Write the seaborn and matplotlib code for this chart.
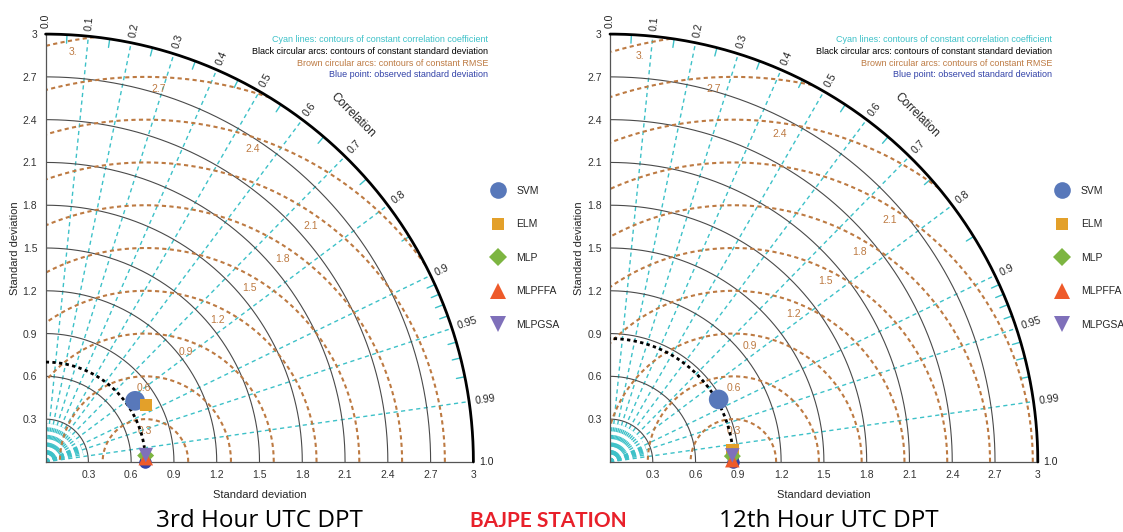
import numpy as np
import pandas as pd
import matplotlib
matplotlib.use("Agg")
import matplotlib.pyplot as plt
from matplotlib.lines import Line2D
import seaborn as sns

sns.set_style("white")
plt.rcParams["font.family"] = ["Liberation Sans", "DejaVu Sans"]

# ---------------- data ----------------
models = ["SVM", "ELM", "MLP", "MLPFFA", "MLPGSA"]
obs_std_3 = 0.70
std_3 = [0.76, 0.81, 0.703, 0.703, 0.704]
corr_3 = [0.826, 0.870, 0.998, 0.9993, 0.9977]
obs_std_12 = 0.865
std_12 = [0.879, 0.862, 0.859, 0.858, 0.859]
corr_12 = [0.867, 0.9954, 0.9989, 0.9999, 0.9986]

std_ticks = [0.3, 0.6, 0.9, 1.2, 1.5, 1.8, 2.1, 2.4, 2.7, 3.0]
std_tick_labels = ["0.3", "0.6", "0.9", "1.2", "1.5", "1.8", "2.1", "2.4", "2.7", "3"]
corr_major = [0.0, 0.1, 0.2, 0.3, 0.4, 0.5, 0.6, 0.7, 0.8, 0.9, 0.95, 0.99, 1.0]
corr_major_labels = ["0.0", "0.1", "0.2", "0.3", "0.4", "0.5", "0.6", "0.7", "0.8",
                     "0.9", "0.95", "0.99", "1.0"]
corr_minor = [0.05, 0.15, 0.25, 0.35, 0.45, 0.55, 0.65, 0.75, 0.85,
              0.91, 0.92, 0.93, 0.94, 0.96, 0.97, 0.98]
rms_levels = [0.3, 0.6, 0.9, 1.2, 1.5, 1.8, 2.1, 2.4, 2.7, 3.0]
rms_labels = ["0.3", "0.6", "0.9", "1.2", "1.5", "1.8", "2.1", "2.4", "2.7", "3."]
# angle (deg, around the observed point) at which each RMSE label sits
rms_label_angles_3 = [92, 91, 70, 63, 59, 56, 55, 71, 88, 100]
rms_label_angles_12 = [90, 90, 82, 68, 63, 59, 57, 82, 93, 103]

# ---------------- style ----------------
palette = {"SVM": "#5878BA", "ELM": "#E3A02A", "MLP": "#7DB541",
           "MLPFFA": "#EE5A2A", "MLPGSA": "#7F70BA"}
markers = {"SVM": "o", "ELM": "s", "MLP": "D", "MLPFFA": "^", "MLPGSA": "v"}
sizes = {"SVM": 200, "ELM": 80, "MLP": 75, "MLPFFA": 110, "MLPGSA": 110}
leg_ms = {"SVM": 12, "ELM": 9, "MLP": 9, "MLPFFA": 11, "MLPGSA": 11}
CYAN = "#3DC1C8"
BROWN = "#BD7A42"
OBS_BLUE = "#3242A8"
RMAX = 3.0

W, H = 1123, 532
fig = plt.figure(figsize=(W / 100, H / 100), dpi=100)


def panel(left_px, obs, stds, corrs, rms_angles):
    ax = fig.add_axes([left_px / W, (H - 461.9) / H, 428 / W, 427.8 / H])
    ax.set_xlim(0, RMAX)
    ax.set_ylim(0, RMAX)
    ax.set_aspect("equal")
    for s in ["top", "right"]:
        ax.spines[s].set_visible(False)
    for s in ["left", "bottom"]:
        ax.spines[s].set_color("#555555")
        ax.spines[s].set_linewidth(0.9)
    ax.set_xticks(std_ticks)
    ax.set_xticklabels(std_tick_labels)
    ax.set_yticks(std_ticks)
    ax.set_yticklabels(std_tick_labels)
    ax.tick_params(length=0, pad=6, labelsize=7.5, labelcolor="#333333")

    th = np.linspace(0, np.pi / 2, 400)
    # std arcs
    for r in std_ticks[:-1]:
        ax.plot(r * np.cos(th), r * np.sin(th), color="#4a4a4a", lw=0.8, zorder=2)
    ax.plot(RMAX * np.cos(th), RMAX * np.sin(th), color="black", lw=2.0, zorder=4,
            clip_on=False)

    # correlation lines
    for c in corr_major[1:-1]:
        a = np.arccos(c)
        ax.plot([0, RMAX * np.cos(a)], [0, RMAX * np.sin(a)], color=CYAN, lw=1.0,
                ls=(0, (3, 2.5)), zorder=1)
    for c in corr_minor:
        a = np.arccos(c)
        ax.plot([0, 0.27 * np.cos(a)], [0, 0.27 * np.sin(a)], color=CYAN, lw=1.0,
                ls=(0, (3, 2.5)), zorder=1)
        ax.plot([2.94 * np.cos(a), RMAX * np.cos(a)], [2.94 * np.sin(a), RMAX * np.sin(a)],
                color=CYAN, lw=1.0, zorder=1)
    for c, lab in zip(corr_major, corr_major_labels):
        a = np.arccos(c)
        ax.text(3.04 * np.cos(a), 3.04 * np.sin(a), lab, rotation=np.degrees(a),
                rotation_mode="anchor", ha="left", va="center", fontsize=7.5,
                color="#222222", clip_on=False)
    a = np.radians(48.5)
    ax.text(3.25 * np.cos(a), 3.25 * np.sin(a), "Correlation", rotation=-45,
            ha="center", va="center", fontsize=8.5, color="#222222", clip_on=False)

    # RMSE arcs around observed point
    tt = np.linspace(0, np.pi, 800)
    for rms, lab, ang in zip(rms_levels, rms_labels, rms_angles):
        x = obs + rms * np.cos(tt)
        y = rms * np.sin(tt)
        m = (x >= 0) & (x ** 2 + y ** 2 <= RMAX ** 2)
        x = np.where(m, x, np.nan)
        y = np.where(m, y, np.nan)
        ax.plot(x, y, color=BROWN, lw=1.5, ls=(0, (2, 1.6)), zorder=2)
        ar = np.radians(ang)
        ax.text(obs + (rms - 0.08) * np.cos(ar), (rms - 0.08) * np.sin(ar), lab,
                ha="center", va="center", fontsize=7.5, color=BROWN, zorder=3)

    # observed std arc
    ax.plot(obs * np.cos(th), obs * np.sin(th), color="black", lw=2.0,
            ls=(0, (1.2, 1.2)), zorder=3)
    ax.plot([obs], [0], "o", color=OBS_BLUE, ms=8, clip_on=False, zorder=4)

    # model points
    stds = np.asarray(stds)
    corrs = np.asarray(corrs)
    df = pd.DataFrame({"model": models,
                       "x": stds * corrs,
                       "y": stds * np.sin(np.arccos(corrs))})
    sns.scatterplot(data=df, x="x", y="y", hue="model", style="model", size="model",
                    palette=palette, markers=markers, sizes=sizes, legend=False,
                    edgecolor="none", linewidth=0, ax=ax, clip_on=False, zorder=5)
    ax.set_xlabel("Standard deviation", fontsize=8, labelpad=7)
    ax.set_ylabel("Standard deviation", fontsize=8, labelpad=2)

    # legend
    handles = [Line2D([], [], ls="none", marker=markers[m], color=palette[m],
                      markeredgewidth=0, ms=leg_ms[m]) for m in models]
    ax.legend(handles, models, loc="upper left",
              bbox_to_anchor=(447 / 428, (461.9 - 186) / 427.8),
              frameon=False, fontsize=7.5, handlelength=1.0, handletextpad=1.3,
              labelspacing=2.25, borderpad=0, borderaxespad=0)

    # explanation text
    notes = [("Cyan lines: contours of constant correlation coefficient", CYAN),
             ("Black circular arcs: contours of constant standard deviation", "black"),
             ("Brown circular arcs: contours of constant RMSE", BROWN),
             ("Blue point: observed standard deviation", OBS_BLUE)]
    for i, (t, col) in enumerate(notes):
        ax.text(1.034, (461.9 - (40 + 11.5 * i)) / 427.8, t, transform=ax.transAxes,
                ha="right", va="center", fontsize=6.5, color=col)
    return ax


panel(45.5, obs_std_3, std_3, corr_3, rms_label_angles_3)
panel(609.9, obs_std_12, std_12, corr_12, rms_label_angles_12)

fig.text(259 / W, (H - 521) / H, "3rd Hour UTC DPT", ha="center", va="center",
         fontsize=17.5, family="Open Sans", color="black")
fig.text(548 / W, (H - 521) / H, "BAJPE STATION", ha="center", va="center",
         fontsize=15, family="Lato", weight="bold", color="#E8202A")
fig.text(829 / W, (H - 521) / H, "12th Hour UTC DPT", ha="center", va="center",
         fontsize=17.5, family="Open Sans", color="black")

fig.savefig("out.png", dpi=100)
